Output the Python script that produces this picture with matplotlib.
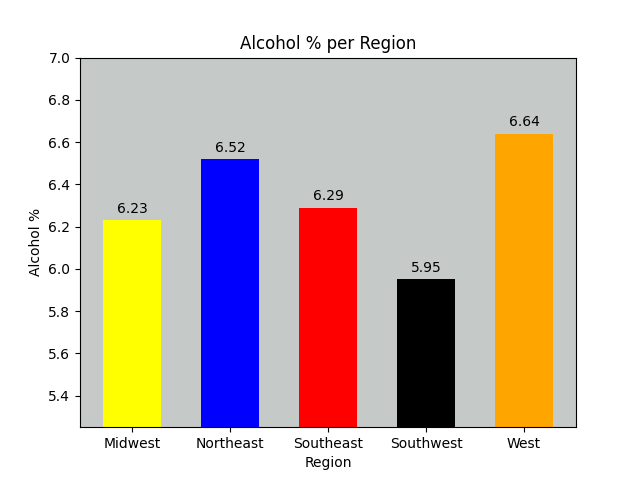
import matplotlib
matplotlib.use('Agg')
import matplotlib.pyplot as plt

regions = ['Midwest', 'Northeast', 'Southeast', 'Southwest', 'West']
alcohol = [6.23, 6.52, 6.29, 5.95, 6.64]
colors = ['yellow', 'blue', 'red', 'black', 'orange']

fig, ax = plt.subplots(figsize=(6.4, 4.8), dpi=100)
ax.set_facecolor('#c5c9c7')
bars = ax.bar(regions, alcohol, color=colors, width=0.6)
for b, v in zip(bars, alcohol):
    ax.annotate('%.2f' % v, (b.get_x() + b.get_width() / 2, v),
                xytext=(0, 3), textcoords='offset points',
                ha='center', va='bottom')
ax.set_ylim(5.25, 7.0)
ax.set_title('Alcohol % per Region')
ax.set_xlabel('Region')
ax.set_ylabel('Alcohol %')
fig.savefig('out.png')
